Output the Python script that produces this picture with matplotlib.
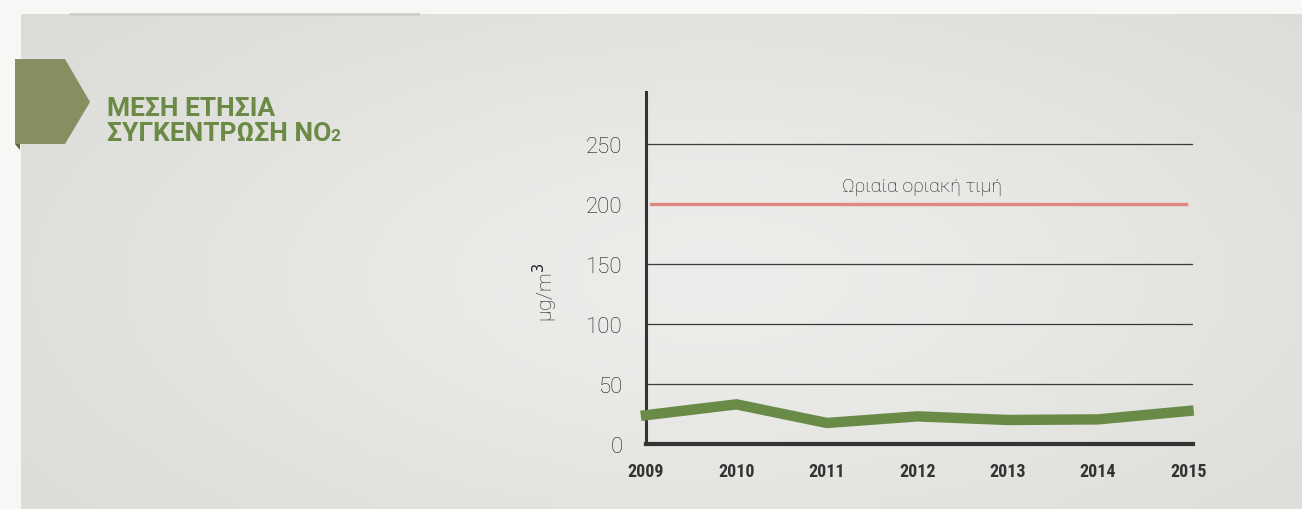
import matplotlib
matplotlib.use("Agg")
import numpy as np
import matplotlib.pyplot as plt
from matplotlib.patches import Polygon, Rectangle

years = [2009, 2010, 2011, 2012, 2013, 2014, 2015]
no2 = [24, 33, 17.5, 23, 20, 20.5, 27.5]
limit_value = 200
limit_label = "Ωριαία οριακή τιμή"
yticks = [0, 50, 100, 150, 200, 250]
grid_values = [50, 100, 150, 250]
title_l1 = "ΜΕΣΗ ΕΤΗΣΙΑ"
title_l2 = "ΣΥΓΚΕΝΤΡΩΣΗ ΝΟ"
ylabel = "μg/m$^3$"

W, H = 1302, 510
fig = plt.figure(figsize=(W / 100, H / 100), dpi=100)
fig.patch.set_facecolor("#e3e3df")

# soft background gradient (decoration)
bg = fig.add_axes([0, 0, 1, 1], zorder=-10)
yy, xx = np.mgrid[0:1:120j, 0:1:300j]
shade = np.exp(-((xx - 0.55) ** 2) / 0.25 - ((yy - 0.55) ** 2) / 0.35)
c0 = np.array([0.85, 0.85, 0.835])
c1 = np.array([0.925, 0.925, 0.915])
img = c0[None, None, :] + (c1 - c0)[None, None, :] * (shade[..., None] / shade.max())
bg.imshow(img, extent=[0, 1, 0, 1], aspect="auto", origin="upper")
bg.set_axis_off()

def px_rect(x0, y0, x1, y1, color, z=0):
    fig.patches.append(Rectangle((x0 / W, 1 - y1 / H), (x1 - x0) / W, (y1 - y0) / H,
                                 transform=fig.transFigure, facecolor=color,
                                 edgecolor="none", zorder=z))

# page edges
px_rect(0, 0, W, 15, "#f7f7f6")
px_rect(0, 0, 21, H, "#f7f7f6")
px_rect(70, 14, 420, 17, "#cfcfcc")

# arrow banner
pts = [(15, 60), (65, 60), (90, 103), (65, 145), (15, 145)]
fig.patches.append(Polygon([(x / W, 1 - y / H) for x, y in pts], closed=True,
                           transform=fig.transFigure, facecolor="#858f62",
                           edgecolor="none", zorder=1))
fig.patches.append(Polygon([(x / W, 1 - y / H) for x, y in [(15, 145), (20, 145), (20, 151)]],
                           closed=True, transform=fig.transFigure,
                           facecolor="#5d6540", edgecolor="none", zorder=1))

cond = ["Roboto Condensed", "Liberation Sans Narrow", "DejaVu Sans"]
tfont = dict(family=["Roboto", "DejaVu Sans"], fontweight="bold",
             color="#6b8a45", fontsize=19)
fig.text(107 / W, 1 - 116 / H, title_l1, ha="left", va="baseline", **tfont)
t2 = fig.text(107 / W, 1 - 141 / H, title_l2, ha="left", va="baseline", **tfont)
fig.canvas.draw()
bb = t2.get_window_extent()
fig.text((bb.x1 - 1) / W, 1 - 141 / H, "2", ha="left", va="baseline",
         family=["Roboto", "DejaVu Sans"], fontweight="bold",
         color="#6b8a45", fontsize=12.5)

ax = fig.add_axes([646 / W, 1 - 445 / H, (1193 - 646) / W, (445 - 93) / H])
ax.set_facecolor("none")
ax.set_xlim(2009, 2015.05)
ax.set_ylim(0, 293)

for g in grid_values:
    ax.axhline(g, color="#3a3a3a", lw=0.9, zorder=1)
ax.plot([2009.05, 2014.97], [limit_value, limit_value], color="#e38585", lw=2.4, zorder=2)
ax.text(2012.05, limit_value + 7, limit_label, ha="center", va="bottom",
        fontsize=14, family="Roboto", fontweight="light", color="#222222")

ax.plot(years, no2, color="#6a8a48", lw=7.5, solid_joinstyle="miter", zorder=3,
        clip_on=False)

for s in ["top", "right"]:
    ax.spines[s].set_visible(False)
ax.spines["left"].set_linewidth(2.2)
ax.spines["left"].set_color("#333333")
ax.spines["bottom"].set_linewidth(3)
ax.spines["bottom"].set_color("#333333")

ax.set_yticks(yticks)
ax.set_yticklabels([str(v) for v in yticks], family="Roboto", fontweight="light",
                   fontsize=16, color="#1e1e1e")
ax.set_xticks(years)
ax.set_xticklabels([str(y) for y in years], family=cond, fontweight="bold",
                   fontstretch="condensed", fontsize=13, color="#333333")
ax.tick_params(axis="y", length=0, pad=17)
ax.tick_params(axis="x", length=0, pad=13)

fig.text(545 / W, 1 - 292 / H, ylabel, rotation=90, ha="center", va="center",
         family="Roboto", fontweight="light", fontsize=15, color="#222222")

fig.savefig("out.png", dpi=100, facecolor=fig.get_facecolor())
